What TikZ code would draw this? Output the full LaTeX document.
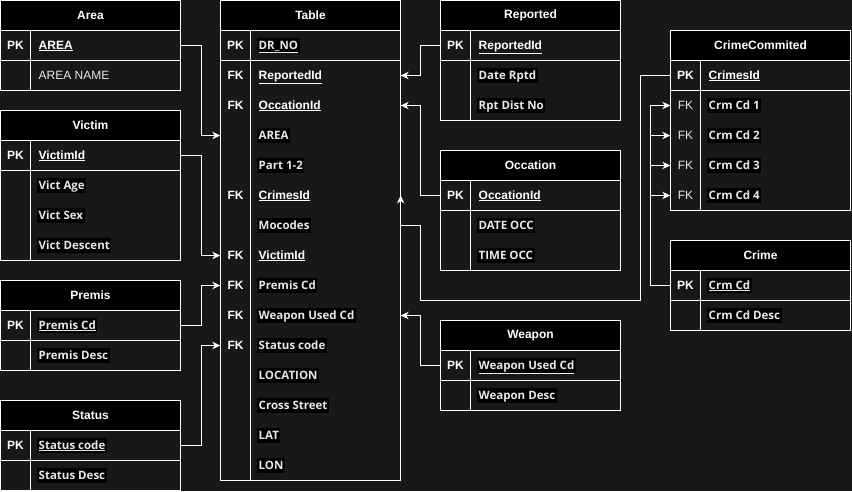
\documentclass[tikz,border=0pt]{standalone}
\usepackage{fontspec}
\setmainfont{Liberation Sans}
\newfontfamily\segoe{Open Sans}
\usetikzlibrary{arrows.meta}
\definecolor{bgc}{HTML}{181818}
\definecolor{hlt}{HTML}{E8E8E8}
\tikzset{
  hdr/.style={draw=white, fill=black, minimum width=180pt, minimum height=30pt, inner sep=0pt, text=white, font=\fontsize{12}{14}\selectfont\bfseries, line width=1pt},
  rowbox/.style={draw=white, minimum width=180pt, minimum height=#1, inner sep=0pt, line width=1pt},
  rowbox/.default=30pt,
  rowslot/.style={minimum width=180pt, minimum height=30pt, inner sep=0pt},
  keyt/.style={text=white, font=\fontsize{12}{14}\selectfont\bfseries, inner sep=0pt, text height=9pt, text depth=2pt},
  keyr/.style={text=hlt, font=\fontsize{12}{14}\selectfont, inner sep=0pt, text height=9pt, text depth=2pt},
  fldu/.style={anchor=west, text=white, font=\fontsize{12}{14}\selectfont\bfseries, inner sep=0pt, text height=9pt, text depth=2pt},
  fldp/.style={anchor=west, text=hlt, font=\fontsize{12}{14}\selectfont, inner sep=0pt, text height=9pt, text depth=2pt},
  fldh/.style={anchor=west, xshift=-1.5pt, fill=black, text=hlt, font=\segoe\bfseries\fontsize{11.5}{14}\selectfont, inner sep=1.5pt, text height=9.5pt, text depth=2.5pt},
  conn/.style={draw=white, line width=1pt, -{Stealth[length=8pt,width=7.5pt]}},
  divl/.style={draw=white, line width=1pt}
}
% id, x, ytop, title, body height
\newcommand{\ertab}[5]{%
  \node[hdr] (#1) at ({#2+90},{#3+15}) {#4};
  \node[rowbox] (#1-pk) at ({#2+90},{#3+45}) {};
  \node[rowbox=#5] (#1-body) at ({#2+90},{#3+60+#5/2}) {};
  \draw[divl] ({#2+30},{#3+30}) -- ({#2+30},{#3+60+#5});
}
\begin{document}
\begin{tikzpicture}[x=1pt,y=-1pt]
\fill[bgc] (-0.5,-0.5) rectangle (851.5,490.5);
\useasboundingbox (-0.5,-0.5) rectangle (851.5,490.5);

% ---------- tables ----------
\ertab{a}{0}{0}{Area}{30}
\ertab{v}{0}{110}{Victim}{90}
\ertab{p}{0}{280}{Premis}{30}
\ertab{s}{0}{400}{Status}{30}
\ertab{t}{220}{0}{Table}{420}
\ertab{r}{440}{0}{Reported}{60}
\ertab{o}{440}{150}{Occation}{60}
\ertab{w}{440}{320}{Weapon}{30}
\ertab{cc}{670}{30}{CrimeCommited}{120}
\ertab{cr}{670}{240}{Crime}{30}

% row slots
\foreach \i in {1,...,14} \node[rowslot] (t-\i) at (310,{45+30*\i}) {};
\foreach \i in {1,...,4} \node[rowslot] (cc-\i) at (760,{75+30*\i}) {};

% ---------- Area ----------
\node[keyt] (a-k1) at (15,45) {PK};
\node[fldu] (a-f1) at (38,45) {\underline{AREA}};
\node[fldp] (a-f2) at (38,75) {AREA NAME};

% ---------- Victim ----------
\node[keyt] (v-k1) at (15,155) {PK};
\node[fldu] (v-f1) at (38,155) {\underline{VictimId}};
\node[fldh] (v-f2) at (38,185) {Vict Age};
\node[fldh] (v-f3) at (38,215) {Vict Sex};
\node[fldh] (v-f4) at (38,245) {Vict Descent};

% ---------- Premis ----------
\node[keyt] (p-k1) at (15,325) {PK};
\node[fldh] (p-f1) at (38,325) {\underline{Premis Cd}};
\node[fldh] (p-f2) at (38,355) {Premis Desc};

% ---------- Status ----------
\node[keyt] (s-k1) at (15,445) {PK};
\node[fldh] (s-f1) at (38,445) {\underline{Status code}};
\node[fldh] (s-f2) at (38,475) {Status Desc};

% ---------- Table ----------
\node[keyt] (t-k0) at (235,45) {PK};
\node[fldh] (t-f0) at (258,45) {\underline{DR\_NO}};
\node[keyt] (t-k1) at (235,75) {FK};
\node[fldu] (t-f1) at (258,75) {\underline{ReportedId}};
\node[keyt] (t-k2) at (235,105) {FK};
\node[fldu] (t-f2) at (258,105) {\underline{OccationId}};
\node[fldh] (t-f3) at (258,135) {AREA};
\node[fldh] (t-f4) at (258,165) {Part 1-2};
\node[keyt] (t-k5) at (235,195) {FK};
\node[fldu] (t-f5) at (258,195) {\underline{CrimesId}};
\node[fldh] (t-f6) at (258,225) {Mocodes};
\node[keyt] (t-k7) at (235,255) {FK};
\node[fldu] (t-f7) at (258,255) {\underline{VictimId}};
\node[keyt] (t-k8) at (235,285) {FK};
\node[fldh] (t-f8) at (258,285) {Premis Cd};
\node[keyt] (t-k9) at (235,315) {FK};
\node[fldh] (t-f9) at (258,315) {Weapon Used Cd};
\node[keyt] (t-k10) at (235,345) {FK};
\node[fldh] (t-f10) at (258,345) {Status code};
\node[fldh] (t-f11) at (258,375) {LOCATION};
\node[fldh] (t-f12) at (258,405) {Cross Street};
\node[fldh] (t-f13) at (258,435) {LAT};
\node[fldh] (t-f14) at (258,465) {LON};

% ---------- Reported ----------
\node[keyt] (r-k1) at (455,45) {PK};
\node[fldu] (r-f1) at (478,45) {\underline{ReportedId}};
\node[fldh] (r-f2) at (478,75) {Date Rptd};
\node[fldh] (r-f3) at (478,105) {Rpt Dist No};

% ---------- Occation ----------
\node[keyt] (o-k1) at (455,195) {PK};
\node[fldu] (o-f1) at (478,195) {\underline{OccationId}};
\node[fldh] (o-f2) at (478,225) {DATE OCC};
\node[fldh] (o-f3) at (478,255) {TIME OCC};

% ---------- Weapon ----------
\node[keyt] (w-k1) at (455,365) {PK};
\node[fldh] (w-f1) at (478,365) {\underline{Weapon Used Cd}};
\node[fldh] (w-f2) at (478,395) {Weapon Desc};

% ---------- CrimeCommited ----------
\node[keyt] (cc-k0) at (685,75) {PK};
\node[fldu] (cc-f0) at (708,75) {\underline{CrimesId}};
\node[keyr] (cc-k1) at (685,105) {FK};
\node[fldh] (cc-f1) at (708,105) {Crm Cd 1};
\node[keyr] (cc-k2) at (685,135) {FK};
\node[fldh] (cc-f2) at (708,135) {Crm Cd 2};
\node[keyr] (cc-k3) at (685,165) {FK};
\node[fldh] (cc-f3) at (708,165) {Crm Cd 3};
\node[keyr] (cc-k4) at (685,195) {FK};
\node[fldh] (cc-f4) at (708,195) {Crm Cd 4};

% ---------- Crime ----------
\node[keyt] (cr-k1) at (685,285) {PK};
\node[fldh] (cr-f1) at (708,285) {\underline{Crm Cd}};
\node[fldh] (cr-f2) at (708,315) {Crm Cd Desc};

% ---------- connectors ----------
\draw[conn] (a-pk.east) -- ++(20,0) |- (t-3.west);
\draw[conn] (v-pk.east) -- ++(20,0) |- (t-7.west);
\draw[conn] (p-pk.east) -- ++(20,0) |- (t-8.west);
\draw[conn] (s-pk.east) -- ++(20,0) |- (t-10.west);
\draw[conn] (r-pk.west) -- ++(-20,0) |- (t-1.east);
\draw[conn] (o-pk.west) -- ++(-20,0) |- (t-2.east);
\draw[conn] (w-pk.west) -- ++(-20,0) |- (t-9.east);
\coordinate (ccb1) at (640,300);
\coordinate (ccb2) at (420,225);
\draw[conn] (cc-pk.west) -| (ccb1) -| (ccb2) -- (t-6.east) -- (t-5.east);
\foreach \i in {1,...,4}
  \draw[conn] (cr-pk.west) -- ++(-20,0) |- (cc-\i.west);
\end{tikzpicture}
\end{document}
